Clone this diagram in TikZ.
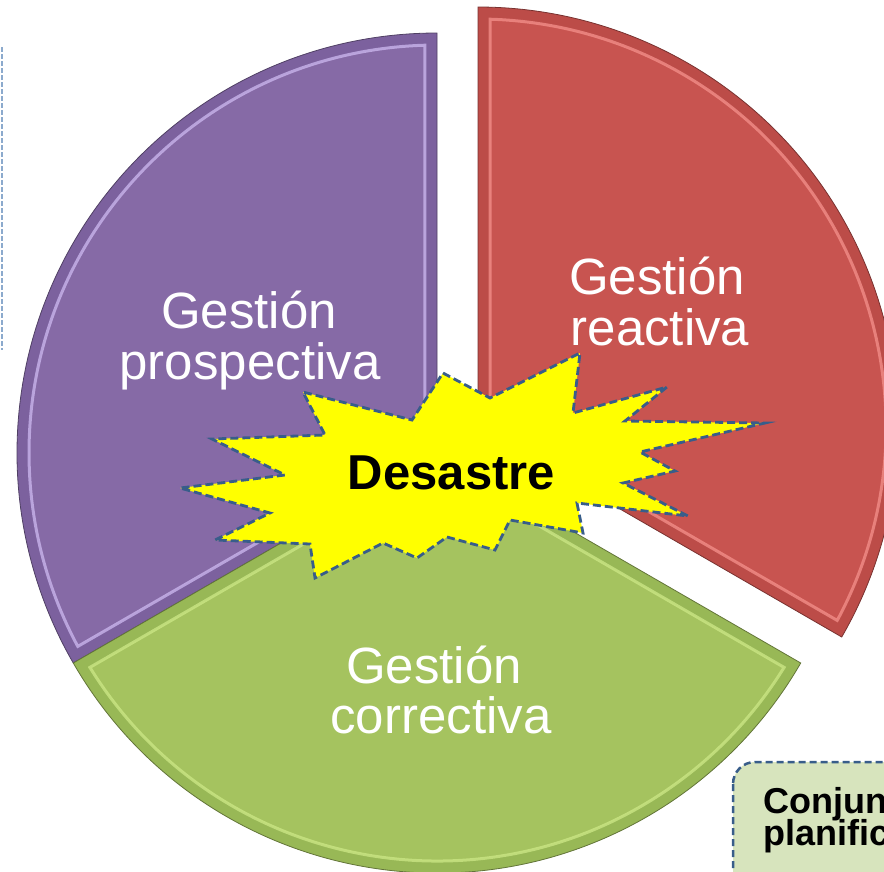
\documentclass[tikz,border=0pt]{standalone}
\usepackage{fontspec}
\setmainfont{Liberation Sans}
\usetikzlibrary{calc}
\definecolor{ppBase}{RGB}{134,106,166}
\definecolor{ppBand}{RGB}{124,97,158}
\definecolor{ppLight}{RGB}{205,185,240}
\definecolor{rdBase}{RGB}{200,84,80}
\definecolor{rdBand}{RGB}{188,76,72}
\definecolor{rdLight}{RGB}{245,145,140}
\definecolor{grBase}{RGB}{165,195,95}
\definecolor{grBand}{RGB}{152,184,86}
\definecolor{grLight}{RGB}{205,232,135}
\definecolor{starFill}{RGB}{255,255,0}
\definecolor{starLine}{RGB}{56,93,138}
\definecolor{boxFill}{RGB}{215,228,189}
\definecolor{leftLine}{RGB}{140,170,205}
\begin{document}
\begin{tikzpicture}[x=1pt,y=-1pt,
  band/.style={fill=#1Band, draw=#1Base!60!black, line width=0.8pt},
  face/.style={fill=#1Base, draw=#1Light, line width=3pt, draw opacity=0.75},
  pielabel/.style={text=white, font=\fontsize{51}{51}\selectfont, anchor=base, inner sep=0pt},
  burst/.style={fill=starFill, draw=starLine, line width=2.8pt, dash pattern=on 8pt off 4pt, line join=miter},
  notebox/.style={fill=boxFill, draw=starLine, line width=2.5pt, dash pattern=on 7pt off 4pt, rounded corners=22pt},
  notetext/.style={text=black, font=\bfseries\fontsize{36}{36}\selectfont, anchor=base west, inner sep=0pt},
]
\useasboundingbox (0,0) rectangle (884,871);
\begin{scope}
\clip (0,0) rectangle (884,871);
\coordinate (O) at (437,453);
\coordinate (R) at (478,427);
% left partial box edge
\coordinate (lt) at (1.5,47);
\coordinate (lb) at (1.5,350);
\draw[leftLine, line width=2pt, dash pattern=on 5pt off 2pt] (lt) -- (lb);
% purple sector
\path[band=pp] (O) -- ++(-90:420) arc[start angle=-90, end angle=-210, radius=420] -- cycle;
\path[face=pp] ($(O)+(-150:13.9)$) -- ($(O)+(-91.7:408)$) arc[start angle=-91.7, end angle=-208.3, radius=408] -- cycle;
% green sector
\path[band=gr] (O) -- ++(-210:420) arc[start angle=-210, end angle=-330, radius=420] -- cycle;
\path[face=gr] ($(O)+(-270:13.9)$) -- ($(O)+(-211.7:408)$) arc[start angle=-211.7, end angle=-328.3, radius=408] -- cycle;
% red sector (exploded)
\path[band=rd] (R) -- ++(30:420) arc[start angle=30, end angle=-90, radius=420] -- cycle;
\path[face=rd] ($(R)+(-30:13.9)$) -- ($(R)+(28.3:408)$) arc[start angle=28.3, end angle=-88.3, radius=408] -- cycle;
% labels
\node[pielabel] (pp1) at (249,328) {Gestión};
\node[pielabel] (pp2) at (250,379) {prospectiva};
\node[pielabel] (rd1) at (657,294) {Gestión};
\node[pielabel] (rd2) at (660,345) {reactiva};
\node[pielabel] (gr1) at (434,683) {Gestión};
\node[pielabel] (gr2) at (441,733) {correctiva};
% starburst
\path[burst] (443,373) -- (490,398) -- (580,353) -- (573,413) -- (667,387) -- (625,421)
  -- (765,423) -- (640,452) -- (675,471) -- (623,483) -- (688,516) -- (577,503)
  -- (583,533) -- (510,520) -- (495,550) -- (447,537) -- (417,558) -- (383,543)
  -- (315,578) -- (310,544) -- (215,540) -- (270,513) -- (180,488) -- (285,475)
  -- (212,439) -- (325,435) -- (303,392) -- (412,420) -- cycle;
\node[text=black, font=\bfseries\fontsize{49}{49}\selectfont, anchor=base, inner sep=0pt] (dis) at (451.5,489) {Desastre};
% partial note box
\draw[notebox] (733,762) rectangle (1100,1100);
\node[notetext] (note1) at (763,813) {Conjun};
\node[notetext] (note2) at (763,845) {planific};
\end{scope}
\end{tikzpicture}
\end{document}
